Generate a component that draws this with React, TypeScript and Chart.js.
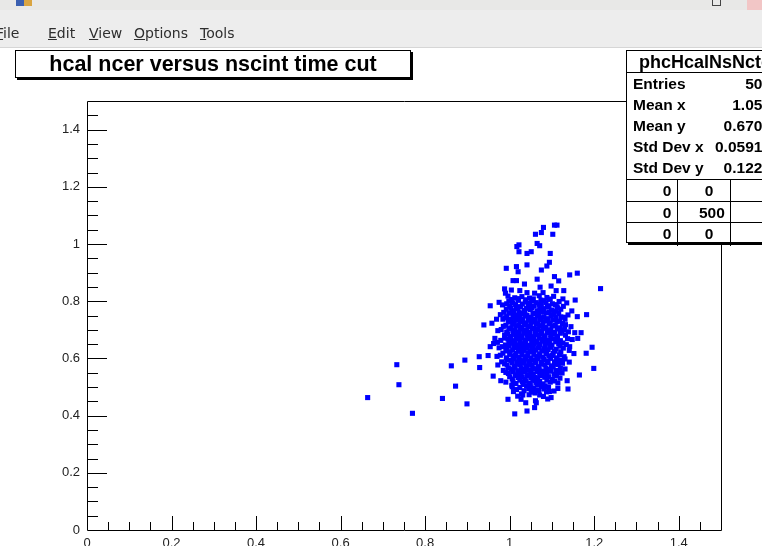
import React, { useEffect, useRef } from "react";
import { Chart, registerables } from "chart.js";

Chart.register(...registerables);

// Axis ranges and labelled ticks
const X_RANGE = [0, 1.5];
const Y_RANGE = [0, 1.5];
const X_TICKS = [0, 0.2, 0.4, 0.6, 0.8, 1, 1.2, 1.4];
const Y_TICKS = [0, 0.2, 0.4, 0.6, 0.8, 1, 1.2, 1.4];
const MINOR_STEP = 0.05;

// Sparse events around the edges of the distribution (nscint, ncer)
const TAIL_EVENTS: [number, number][] = [
  [1.106, 1.066], [1.112, 1.066], [1.08, 1.058], [1.075, 1.04], [1.061, 1.034], [1.102, 1.034],
  [1.022, 0.997], [1.017, 0.991], [1.065, 1.002], [1.071, 0.994], [1.022, 0.973], [1.041, 0.967],
  [1.051, 0.973], [1.096, 0.967], [1.041, 0.927], [1.094, 0.936], [1.088, 0.923], [1.075, 0.909],
  [0.992, 0.915], [1.016, 0.921], [1.02, 0.903], [1.142, 0.892], [1.16, 0.898], [1.106, 0.886],
  [1.116, 0.871], [1.008, 0.872], [1.016, 0.872], [1.065, 0.877], [1.035, 0.86], [1.098, 0.853],
  [1.072, 0.849], [1.215, 0.844], [0.988, 0.843], [1.004, 0.839], [1.024, 0.837], [1.11, 0.837],
  [1.128, 0.837], [0.99, 0.828], [1.041, 0.83], [1.059, 0.828], [1.079, 0.83], [1.094, 0.807],
  [1.126, 0.808], [1.155, 0.804], [0.975, 0.796], [0.954, 0.784], [0.998, 0.801], [1.112, 0.781],
  [1.147, 0.766], [1.16, 0.746], [1.182, 0.753], [0.969, 0.737], [0.984, 0.737], [0.939, 0.717],
  [1.128, 0.744], [1.13, 0.711], [1.154, 0.69], [1.169, 0.69], [1.161, 0.67], [1.142, 0.641],
  [1.195, 0.639], [1.181, 0.618], [0.954, 0.641], [0.965, 0.67], [0.949, 0.61], [0.928, 0.606],
  [0.894, 0.594], [0.862, 0.574], [0.929, 0.568], [0.961, 0.538], [0.972, 0.577], [0.872, 0.503],
  [0.841, 0.46], [0.899, 0.441], [0.979, 0.522], [0.996, 0.457], [1.012, 0.406], [1.041, 0.416],
  [1.038, 0.445], [1.063, 0.445], [1.059, 0.428], [1.098, 0.463], [1.199, 0.565], [1.165, 0.542],
  [1.138, 0.493], [1.136, 0.522], [1.114, 0.495], [1.006, 0.501], [1.009, 0.484], [1.031, 0.472],
  [1.051, 0.49], [1.071, 0.472], [1.094, 0.484],
  [0.733, 0.578], [0.738, 0.508], [0.664, 0.463], [0.77, 0.408],
];

// Dense core of the distribution
const CORE_EVENTS: [number, number][] = [
  [0.996, 0.818], [1.012, 0.812], [1.029, 0.816], [1.047, 0.811], [1.07, 0.819], [1.088, 0.813], [1.104, 0.817],
  [1.005, 0.798], [1.021, 0.803], [1.037, 0.797], [1.052, 0.801], [1.063, 0.795], [1.081, 0.802], [1.117, 0.799], [1.135, 0.794],
  [0.983, 0.787], [1.0, 0.782], [1.014, 0.788], [1.026, 0.781], [1.044, 0.786], [1.058, 0.783], [1.075, 0.789], [1.093, 0.784], [1.108, 0.788], [1.127, 0.782],
  [0.992, 0.772], [1.009, 0.767], [1.02, 0.773], [1.034, 0.768], [1.049, 0.771], [1.066, 0.766], [1.08, 0.774], [1.099, 0.769], [1.121, 0.772],
  [0.978, 0.753], [0.998, 0.758], [1.013, 0.752], [1.027, 0.757], [1.041, 0.751], [1.055, 0.756], [1.069, 0.753], [1.087, 0.759], [1.104, 0.754], [1.116, 0.757], [1.138, 0.752],
  [0.99, 0.742], [1.004, 0.737], [1.018, 0.743], [1.031, 0.738], [1.046, 0.741], [1.06, 0.736], [1.073, 0.742], [1.091, 0.739], [1.109, 0.743], [1.131, 0.737],
  [0.958, 0.723], [0.997, 0.727], [1.011, 0.722], [1.024, 0.728], [1.038, 0.724], [1.051, 0.726], [1.066, 0.721], [1.079, 0.727], [1.096, 0.723], [1.112, 0.728], [1.125, 0.722],
  [0.985, 0.712], [1.003, 0.707], [1.016, 0.713], [1.029, 0.708], [1.043, 0.711], [1.057, 0.706], [1.071, 0.712], [1.085, 0.709], [1.101, 0.713], [1.118, 0.707], [1.145, 0.711],
  [0.972, 0.697], [0.993, 0.692], [1.008, 0.698], [1.021, 0.693], [1.035, 0.696], [1.048, 0.691], [1.062, 0.697], [1.076, 0.694], [1.092, 0.699], [1.107, 0.692], [1.123, 0.696], [1.139, 0.693],
  [0.988, 0.682], [1.001, 0.677], [1.014, 0.683], [1.027, 0.678], [1.041, 0.681], [1.054, 0.676], [1.068, 0.682], [1.082, 0.679], [1.097, 0.684], [1.113, 0.677], [1.132, 0.681],
  [0.979, 0.663], [0.996, 0.668], [1.009, 0.662], [1.022, 0.667], [1.036, 0.664], [1.05, 0.669], [1.063, 0.661], [1.077, 0.666], [1.089, 0.663], [1.104, 0.668], [1.12, 0.662], [1.148, 0.666],
  [0.962, 0.652], [0.99, 0.647], [1.005, 0.653], [1.018, 0.648], [1.031, 0.651], [1.045, 0.646], [1.058, 0.652], [1.072, 0.649], [1.086, 0.654], [1.1, 0.647], [1.116, 0.651], [1.134, 0.648],
  [0.975, 0.637], [0.994, 0.632], [1.011, 0.638], [1.025, 0.633], [1.039, 0.636], [1.053, 0.631], [1.067, 0.637], [1.081, 0.634], [1.095, 0.639], [1.11, 0.632], [1.127, 0.636],
  [0.984, 0.618], [1.001, 0.623], [1.015, 0.617], [1.029, 0.622], [1.043, 0.619], [1.057, 0.624], [1.071, 0.616], [1.087, 0.621], [1.103, 0.618], [1.121, 0.623], [1.152, 0.617],
  [0.97, 0.607], [0.992, 0.602], [1.008, 0.608], [1.022, 0.603], [1.036, 0.606], [1.05, 0.601], [1.064, 0.607], [1.078, 0.604], [1.093, 0.609], [1.111, 0.602], [1.129, 0.606],
  [0.981, 0.588], [1.003, 0.593], [1.017, 0.587], [1.031, 0.592], [1.045, 0.589], [1.059, 0.594], [1.074, 0.586], [1.089, 0.591], [1.106, 0.588], [1.122, 0.593], [1.141, 0.587],
  [0.994, 0.577], [1.011, 0.572], [1.025, 0.578], [1.039, 0.573], [1.053, 0.576], [1.068, 0.571], [1.083, 0.577], [1.099, 0.574], [1.115, 0.579],
  [0.985, 0.558], [1.004, 0.563], [1.019, 0.557], [1.033, 0.562], [1.047, 0.559], [1.062, 0.564], [1.077, 0.556], [1.092, 0.561], [1.11, 0.558], [1.131, 0.563],
  [0.997, 0.547], [1.013, 0.542], [1.027, 0.548], [1.042, 0.543], [1.056, 0.546], [1.071, 0.541], [1.088, 0.547], [1.106, 0.544], [1.124, 0.549],
  [1.006, 0.528], [1.021, 0.533], [1.036, 0.527], [1.051, 0.532], [1.066, 0.529], [1.083, 0.534], [1.101, 0.526], [1.119, 0.531],
  [0.991, 0.517], [1.015, 0.512], [1.03, 0.518], [1.046, 0.513], [1.062, 0.516], [1.079, 0.511], [1.096, 0.517], [1.114, 0.514],
  [1.024, 0.498], [1.04, 0.503], [1.057, 0.497], [1.075, 0.502], [1.092, 0.499],
  [1.034, 0.487], [1.052, 0.482], [1.069, 0.488], [1.087, 0.483], [1.105, 0.486],
  [1.019, 0.468], [1.046, 0.473], [1.08, 0.467],
  [1.027, 0.457], [1.061, 0.452], [1.09, 0.458],
];

// Events lying between the core rows
const CORE_FILL: [number, number][] = [
  [1.004, 0.806], [1.02, 0.809], [1.038, 0.805], [1.056, 0.808], [1.074, 0.804], [1.096, 0.807],
  [0.993, 0.791], [1.008, 0.794], [1.03, 0.79], [1.047, 0.793], [1.07, 0.789], [1.086, 0.795], [1.101, 0.791],
  [1.003, 0.776], [1.016, 0.779], [1.04, 0.775], [1.053, 0.778], [1.071, 0.774], [1.089, 0.779], [1.113, 0.776],
  [0.986, 0.761], [1.005, 0.764], [1.022, 0.76], [1.036, 0.763], [1.06, 0.759], [1.076, 0.764], [1.093, 0.761], [1.11, 0.765],
  [0.993, 0.746], [1.008, 0.749], [1.024, 0.745], [1.037, 0.748], [1.051, 0.744], [1.065, 0.749], [1.081, 0.746], [1.098, 0.75], [1.121, 0.745],
  [1.0, 0.731], [1.014, 0.734], [1.028, 0.73], [1.044, 0.733], [1.056, 0.729], [1.071, 0.735], [1.085, 0.731], [1.102, 0.734], [1.118, 0.73],
  [0.991, 0.716], [1.007, 0.719], [1.022, 0.715], [1.035, 0.718], [1.049, 0.714], [1.063, 0.719], [1.078, 0.716], [1.093, 0.72], [1.108, 0.715], [1.132, 0.718],
  [0.98, 0.701], [0.998, 0.704], [1.012, 0.7], [1.025, 0.703], [1.04, 0.699], [1.053, 0.704], [1.066, 0.701], [1.08, 0.705], [1.097, 0.7], [1.113, 0.703], [1.129, 0.699],
  [0.995, 0.686], [1.008, 0.689], [1.02, 0.685], [1.033, 0.688], [1.047, 0.684], [1.06, 0.689], [1.074, 0.686], [1.089, 0.69], [1.104, 0.685], [1.12, 0.688],
  [0.988, 0.671], [1.003, 0.674], [1.016, 0.67], [1.029, 0.673], [1.043, 0.669], [1.057, 0.674], [1.07, 0.671], [1.084, 0.675], [1.097, 0.67], [1.112, 0.673], [1.137, 0.669],
  [0.971, 0.656], [0.998, 0.659], [1.012, 0.655], [1.025, 0.658], [1.038, 0.654], [1.052, 0.659], [1.065, 0.656], [1.08, 0.66], [1.094, 0.655], [1.109, 0.658], [1.126, 0.654],
  [0.983, 0.641], [0.999, 0.644], [1.015, 0.64], [1.028, 0.643], [1.042, 0.639], [1.056, 0.644], [1.07, 0.641], [1.084, 0.645], [1.098, 0.64], [1.119, 0.643],
  [0.991, 0.626], [1.007, 0.629], [1.02, 0.625], [1.034, 0.628], [1.048, 0.624], [1.062, 0.629], [1.076, 0.626], [1.091, 0.63], [1.106, 0.625], [1.141, 0.628],
  [0.978, 0.611], [1.0, 0.614], [1.014, 0.61], [1.029, 0.613], [1.043, 0.609], [1.057, 0.614], [1.071, 0.611], [1.086, 0.615], [1.101, 0.61], [1.118, 0.613],
  [0.993, 0.596], [1.011, 0.599], [1.024, 0.595], [1.038, 0.598], [1.052, 0.594], [1.066, 0.599], [1.081, 0.596], [1.097, 0.6], [1.114, 0.595], [1.131, 0.598],
  [0.988, 0.581], [1.006, 0.584], [1.021, 0.58], [1.034, 0.583], [1.047, 0.579], [1.061, 0.584], [1.076, 0.581], [1.091, 0.585], [1.107, 0.58], [1.125, 0.583],
  [0.997, 0.566], [1.013, 0.569], [1.027, 0.565], [1.041, 0.568], [1.055, 0.564], [1.07, 0.569], [1.086, 0.566], [1.103, 0.57], [1.12, 0.565],
  [0.991, 0.551], [1.008, 0.554], [1.022, 0.55], [1.036, 0.553], [1.05, 0.549], [1.066, 0.554], [1.081, 0.551], [1.098, 0.555], [1.116, 0.55],
  [1.0, 0.536], [1.016, 0.539], [1.03, 0.535], [1.045, 0.538], [1.06, 0.534], [1.076, 0.539], [1.093, 0.536], [1.111, 0.54],
  [1.008, 0.521], [1.024, 0.524], [1.039, 0.52], [1.055, 0.523], [1.071, 0.519], [1.088, 0.524], [1.106, 0.521],
  [1.005, 0.506], [1.032, 0.509], [1.049, 0.505], [1.066, 0.508], [1.084, 0.504],
  [1.016, 0.491], [1.045, 0.494], [1.063, 0.49], [1.081, 0.493],
  [1.028, 0.476], [1.06, 0.479],
];

// Statistics box contents
const STATS_NAME = "phcHcalNsNctcut";
const STATS_LABELS = ["Entries", "Mean x", "Mean y", "Std Dev x", "Std Dev y"];
const STATS_VALUES = ["500", "1.054", "0.6702", "0.05912", "0.1224"];
const STATS_TABLE = [
  ["0", "0", "0"],
  ["0", "500", "0"],
  ["0", "0", "0"],
];

const MENU_ITEMS = ["File", "Edit", "View", "Options", "Tools"];
const MENU_X = [-4, 48, 89, 134, 200];

const PLOT_FONT = "'Liberation Sans', Arial, Helvetica, sans-serif";

// Frame and inward tick marks in ROOT style
const frameTicks = {
  id: "frameTicks",
  afterDraw(chart: any) {
    const { ctx, chartArea } = chart;
    const xs = chart.scales.x;
    const ys = chart.scales.y;
    const { left, right, top, bottom } = chartArea;
    ctx.save();
    ctx.strokeStyle = "#000";
    ctx.lineWidth = 1;
    ctx.beginPath();
    ctx.rect(Math.round(left) + 0.5, Math.round(top) + 0.5, Math.round(right - left), Math.round(bottom - top));
    ctx.stroke();

    ctx.beginPath();
    const nx = Math.round((xs.max - xs.min) / MINOR_STEP);
    for (let i = 1; i < nx; i++) {
      const v = xs.min + i * MINOR_STEP;
      const major = i % 4 === 0;
      const px = Math.round(xs.getPixelForValue(v)) + 0.5;
      ctx.moveTo(px, Math.round(bottom));
      ctx.lineTo(px, Math.round(bottom) - (major ? 14 : 8));
    }
    const ny = Math.round((ys.max - ys.min) / MINOR_STEP);
    for (let i = 1; i < ny; i++) {
      const v = ys.min + i * MINOR_STEP;
      const major = i % 4 === 0;
      const py = Math.round(ys.getPixelForValue(v)) + 0.5;
      ctx.moveTo(Math.round(left), py);
      ctx.lineTo(Math.round(left) + (major ? 20 : 11), py);
    }
    ctx.stroke();
    ctx.restore();
  },
};

function ScatterCanvas() {
  const ref = useRef<HTMLCanvasElement | null>(null);
  useEffect(() => {
    if (!ref.current) return;
    const points = [...CORE_EVENTS, ...CORE_FILL, ...TAIL_EVENTS].map(([x, y]) => ({ x, y }));
    const chart = new Chart(ref.current, {
      type: "scatter",
      data: {
        datasets: [
          {
            data: points,
            pointStyle: "rect",
            pointRadius: 3.6,
            pointBorderWidth: 0,
            pointBackgroundColor: "#0000ff",
            pointBorderColor: "#0000ff",
            showLine: false,
          },
        ],
      },
      options: {
        animation: false,
        responsive: false,
        devicePixelRatio: 1,
        layout: { padding: { left: 0, top: 101, right: 41, bottom: 0 } },
        plugins: { legend: { display: false }, tooltip: { enabled: false }, title: { display: false } },
        scales: {
          x: {
            type: "linear",
            min: X_RANGE[0],
            max: X_RANGE[1],
            grid: { display: false, drawTicks: false },
            border: { display: false },
            ticks: {
              color: "#222",
              font: { family: PLOT_FONT, size: 13 },
              padding: 6,
              maxRotation: 0,
              autoSkip: false,
              callback: (v: any) => String(v),
            },
            afterBuildTicks: (s: any) => {
              s.ticks = X_TICKS.map((v) => ({ value: v }));
            },
            afterFit: (s: any) => {
              s.height = 16;
            },
          },
          y: {
            type: "linear",
            min: Y_RANGE[0],
            max: Y_RANGE[1],
            grid: { display: false, drawTicks: false },
            border: { display: false },
            ticks: {
              color: "#222",
              font: { family: PLOT_FONT, size: 13 },
              padding: 7,
              autoSkip: false,
              callback: (v: any) => String(v),
            },
            afterBuildTicks: (s: any) => {
              s.ticks = Y_TICKS.map((v) => ({ value: v }));
            },
            afterFit: (s: any) => {
              s.width = 87;
            },
          },
        },
      },
      plugins: [frameTicks],
    });
    return () => chart.destroy();
  }, []);
  return <canvas ref={ref} width={762} height={546} style={{ position: "absolute", left: 0, top: 0 }} />;
}

export default function App() {
  const statFont = "'Liberation Sans', Arial, Helvetica, sans-serif";
  return (
    <div
      style={{
        position: "fixed",
        left: 0,
        top: 0,
        width: 762,
        height: 546,
        overflow: "hidden",
        background: "#fff",
      }}
    >
      <ScatterCanvas />

      {/* window title strip */}
      <div style={{ position: "absolute", left: 0, top: 0, width: 762, height: 10, background: "#e8e8e7" }}>
        <div style={{ position: "absolute", left: 16, top: 0, width: 8, height: 6, background: "#3a5fb0" }} />
        <div style={{ position: "absolute", left: 24, top: 0, width: 8, height: 6, background: "#d9a441" }} />
        <div style={{ position: "absolute", left: 712, top: -2, width: 9, height: 8, border: "1px solid #444", boxSizing: "border-box" }} />
        <div style={{ position: "absolute", left: 747, top: 0, width: 15, height: 17, background: "#f2c6c6" }} />
      </div>

      {/* menu bar */}
      <div
        style={{
          position: "absolute",
          left: 0,
          top: 10,
          width: 762,
          height: 37,
          background: "#ededed",
          borderBottom: "1px solid #d6d6d6",
          fontFamily: "'DejaVu Sans', sans-serif",
          fontSize: 14,
          color: "#2e2e2e",
        }}
      >
        {MENU_ITEMS.map((m, i) => (
          <span key={m} style={{ position: "absolute", left: MENU_X[i], top: 15, lineHeight: "17px" }}>
            <u>{m[0]}</u>
            {m.slice(1)}
          </span>
        ))}
      </div>

      {/* histogram title */}
      <div
        style={{
          position: "absolute",
          left: 15,
          top: 50,
          width: 396,
          height: 28,
          boxSizing: "border-box",
          border: "1px solid #000",
          boxShadow: "2px 2px 0 #000",
          background: "#fff",
          fontFamily: statFont,
          fontWeight: "bold",
          fontSize: 21.5,
          lineHeight: "26px",
          textAlign: "center",
          color: "#000",
          whiteSpace: "nowrap",
        }}
      >
        hcal ncer versus nscint time cut
      </div>

      {/* statistics box */}
      <div
        style={{
          position: "absolute",
          left: 626,
          top: 50,
          width: 160,
          height: 193,
          boxSizing: "border-box",
          border: "1px solid #000",
          boxShadow: "2px 2px 0 #000",
          background: "#fff",
          fontFamily: statFont,
          fontWeight: "bold",
          color: "#000",
          whiteSpace: "nowrap",
        }}
      >
        <div style={{ position: "absolute", left: 12, top: 1, fontSize: 18, lineHeight: "20px" }}>{STATS_NAME}</div>
        <div style={{ position: "absolute", left: 0, right: 0, top: 21, borderTop: "1px solid #000" }} />
        {STATS_LABELS.map((l, i) => (
          <React.Fragment key={l}>
            <div style={{ position: "absolute", left: 6, top: 24 + i * 21, fontSize: 15.5, lineHeight: "18px" }}>{l}</div>
            <div style={{ position: "absolute", right: 14, top: 24 + i * 21, fontSize: 15.5, lineHeight: "18px" }}>
              {STATS_VALUES[i]}
            </div>
          </React.Fragment>
        ))}
        {STATS_TABLE.map((row, r) => (
          <div key={r} style={{ position: "absolute", left: 0, right: 0, top: 128 + r * 21.5, height: 21.5, borderTop: "1px solid #000" }}>
            <div style={{ position: "absolute", left: 50, top: 0, bottom: -1, borderLeft: "1px solid #000" }} />
            <div style={{ position: "absolute", left: 103, top: 0, bottom: -1, borderLeft: "1px solid #000" }} />
            {row.map((c, j) => (
              <div
                key={j}
                style={{
                  position: "absolute",
                  left: [30, 72, 140][j],
                  width: 20,
                  top: 2,
                  fontSize: 15.5,
                  lineHeight: "18px",
                  textAlign: "center",
                }}
              >
                {c}
              </div>
            ))}
          </div>
        ))}
      </div>
    </div>
  );
}
